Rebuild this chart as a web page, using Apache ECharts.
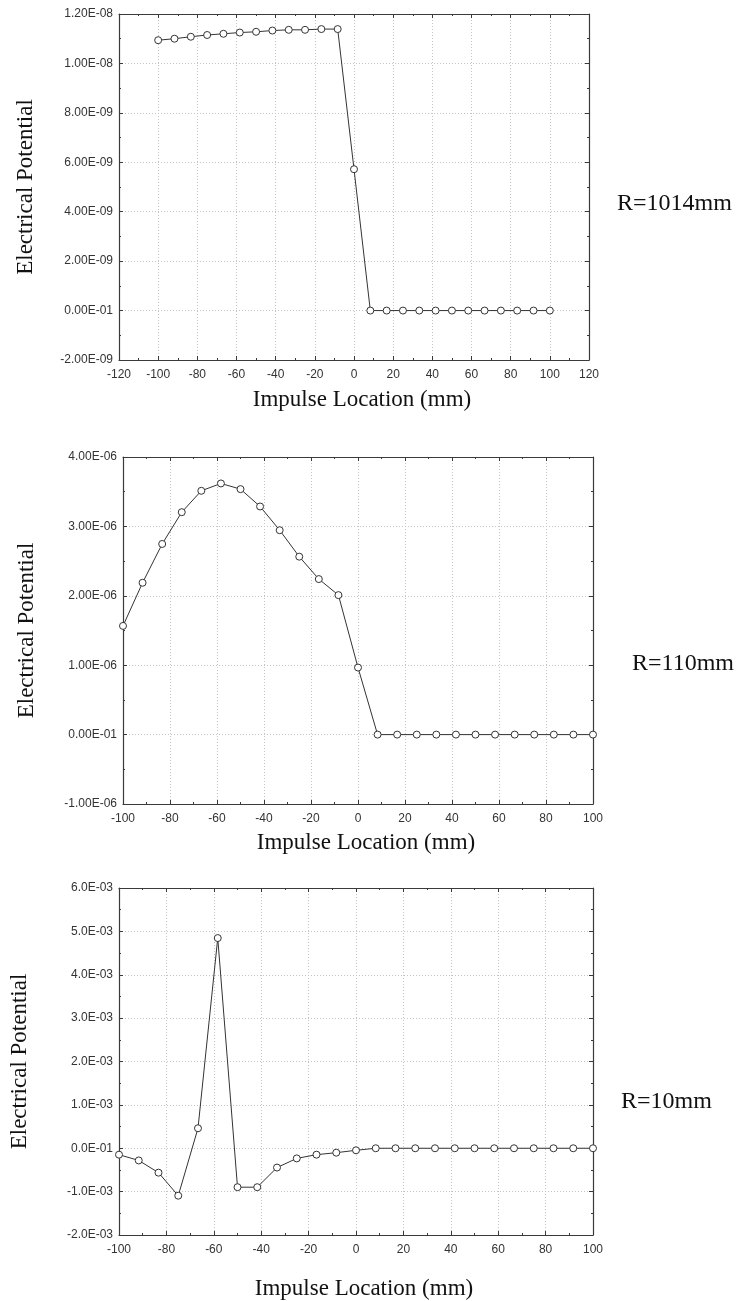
<!DOCTYPE html>
<html>
<head>
<meta charset="utf-8">
<script src="https://cdn.jsdelivr.net/npm/echarts@6/dist/echarts.min.js"></script>
<style>
  html, body { margin: 0; padding: 0; background: #fff; }
  #chart { width: 742px; height: 1301px; }
</style>
</head>
<body>
<div id="chart"></div>
<script>
// Impulse locations (mm), shared by all three curves
const impulseLocation = [-100, -91.67, -83.33, -75, -66.67, -58.33, -50, -41.67, -33.33, -25, -16.67, -8.33,
  0, 8.33, 16.67, 25, 33.33, 41.67, 50, 58.33, 66.67, 75, 83.33, 91.67, 100];

// Electrical potential for each electrode distance
const potentialR1014 = [1.094e-8, 1.100e-8, 1.108e-8, 1.115e-8, 1.120e-8, 1.125e-8, 1.128e-8, 1.133e-8,
  1.136e-8, 1.136e-8, 1.139e-8, 1.139e-8, 5.72e-9, 0, 0, 0, 0, 0, 0, 0, 0, 0, 0, 0, 0];
const potentialR110 = [1.566e-6, 2.188e-6, 2.747e-6, 3.205e-6, 3.513e-6, 3.619e-6, 3.537e-6, 3.287e-6,
  2.945e-6, 2.564e-6, 2.241e-6, 2.010e-6, 0.966e-6, 0, 0, 0, 0, 0, 0, 0, 0, 0, 0, 0, 0];
const potentialR10 = [-0.148e-3, -0.281e-3, -0.563e-3, -1.094e-3, 0.461e-3, 4.846e-3, -0.898e-3, -0.898e-3,
  -0.445e-3, -0.234e-3, -0.148e-3, -0.102e-3, -0.047e-3, 0, 0, 0, 0, 0, 0, 0, 0, 0, 0, 0, 0];

// Y tick labels, bottom to top
const yLabelsR1014 = ['-2.00E-09', '0.00E-01', '2.00E-09', '4.00E-09', '6.00E-09', '8.00E-09', '1.00E-08', '1.20E-08'];
const yLabelsR110 = ['-1.00E-06', '0.00E-01', '1.00E-06', '2.00E-06', '3.00E-06', '4.00E-06'];
const yLabelsR10 = ['-2.0E-03', '-1.0E-03', '0.0E-01', '1.0E-03', '2.0E-03', '3.0E-03', '4.0E-03', '5.0E-03', '6.0E-03'];

const panelLabels = ['R=1014mm', 'R=110mm', 'R=10mm'];

const SANS = '"Liberation Sans", Arial, sans-serif';
const SERIF = '"Liberation Serif", "Times New Roman", serif';
const AXIS_COLOR = '#3a3a3a';

const panels = [
  { grid: { left: 119, top: 14, width: 470, height: 346 }, xMin: -120, xMax: 120,
    yMin: -2e-9, yMax: 1.2e-8, yStep: 2e-9, yLabels: yLabelsR1014, values: potentialR1014,
    xNameGap: 28, yNameGap: 82, label: { x: 617, y: 203 } },
  { grid: { left: 123, top: 457, width: 470, height: 347 }, xMin: -100, xMax: 100,
    yMin: -1e-6, yMax: 4e-6, yStep: 1e-6, yLabels: yLabelsR110, values: potentialR110,
    xNameGap: 27, yNameGap: 85, label: { x: 632, y: 663 } },
  { grid: { left: 117, top: 888, width: 476, height: 347 }, xMin: -100, xMax: 100,
    yMin: -2e-3, yMax: 6e-3, yStep: 1e-3, yLabels: yLabelsR10, values: potentialR10,
    xNameGap: 42, yNameGap: 88, label: { x: 621, y: 1101 } }
];

const grid = [], xAxis = [], yAxis = [], series = [], graphic = [];

panels.forEach((p, i) => {
  grid.push(Object.assign({ show: false, containLabel: false }, p.grid));

  const tickIn = { show: true, inside: true, length: 4, lineStyle: { color: AXIS_COLOR } };
  const minorIn = { show: true, splitNumber: 2, length: 2, lineStyle: { color: AXIS_COLOR } };
  const line = { show: true, onZero: false, lineStyle: { color: AXIS_COLOR, width: 1.2 } };
  const dotted = { show: true, lineStyle: { color: '#c4c4c4', type: [1, 2], width: 1 } };

  // bottom axis with labels and grid lines
  xAxis.push({
    type: 'value', gridIndex: i, position: 'bottom', min: p.xMin, max: p.xMax, interval: 20,
    axisLine: line, axisTick: tickIn, minorTick: minorIn, splitLine: dotted,
    axisLabel: { color: '#333', fontFamily: SANS, fontSize: 12, margin: 9 },
    name: 'Impulse Location (mm)', nameLocation: 'middle', nameGap: p.xNameGap,
    nameTextStyle: { fontFamily: SERIF, fontSize: 23, color: '#111', padding: [0, 0, 0, 16] }
  });
  // top frame edge
  xAxis.push({
    type: 'value', gridIndex: i, position: 'top', min: p.xMin, max: p.xMax, interval: 20,
    axisLine: line, axisTick: tickIn, minorTick: minorIn, splitLine: { show: false },
    axisLabel: { show: false }
  });
  // left axis with labels and grid lines
  yAxis.push({
    type: 'value', gridIndex: i, position: 'left', min: p.yMin, max: p.yMax, interval: p.yStep,
    axisLine: line, axisTick: tickIn, minorTick: minorIn, splitLine: dotted,
    axisLabel: { color: '#333', fontFamily: SANS, fontSize: 12, margin: 6,
      formatter: (v, idx) => p.yLabels[idx] },
    name: 'Electrical Potential', nameLocation: 'middle', nameGap: p.yNameGap, nameRotate: 90,
    nameTextStyle: { fontFamily: SERIF, fontSize: 23, color: '#111' }
  });
  // right frame edge
  yAxis.push({
    type: 'value', gridIndex: i, position: 'right', min: p.yMin, max: p.yMax, interval: p.yStep,
    axisLine: line, axisTick: tickIn, minorTick: minorIn, splitLine: { show: false },
    axisLabel: { show: false }
  });

  series.push({
    type: 'line', xAxisIndex: i * 2, yAxisIndex: i * 2,
    data: impulseLocation.map((x, k) => [x, p.values[k]]),
    symbol: 'circle', symbolSize: 7, showSymbol: true,
    lineStyle: { color: '#333', width: 1 },
    itemStyle: { color: '#fff', borderColor: '#333', borderWidth: 1 },
    silent: true
  });

  graphic.push({
    type: 'text', left: p.label.x, top: p.label.y - 11,
    style: { text: panelLabels[i], font: '24px ' + SERIF, fill: '#111' }
  });
});

const chart = echarts.init(document.getElementById('chart'), null, { renderer: 'canvas' });
chart.setOption({ animation: false, grid, xAxis, yAxis, series, graphic });
</script>
</body>
</html>
